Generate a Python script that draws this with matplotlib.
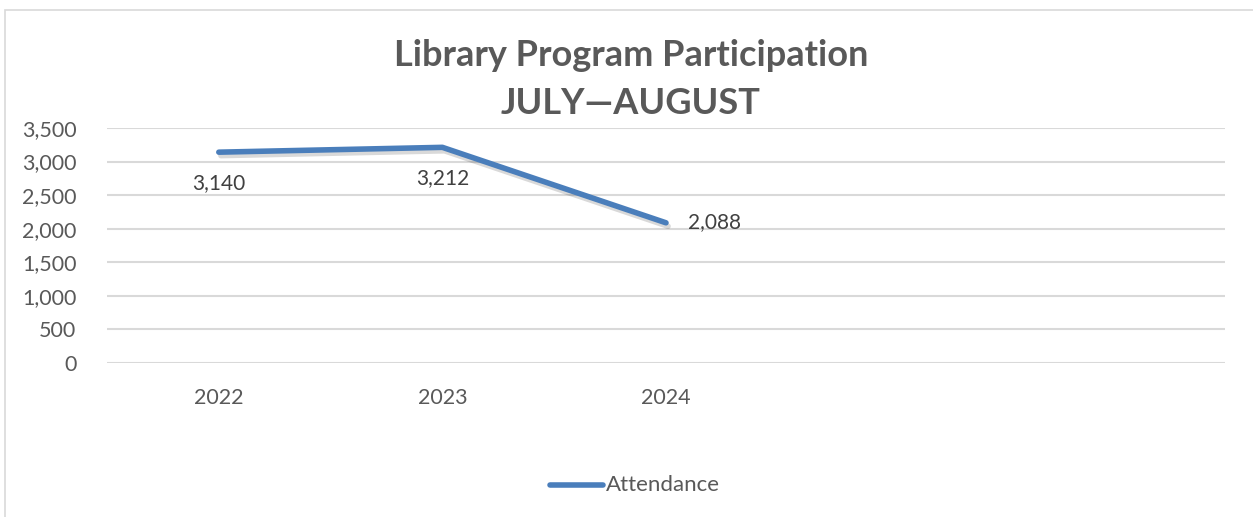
import matplotlib
matplotlib.use("Agg")
import matplotlib.pyplot as plt
import matplotlib.patheffects as pe
from matplotlib.patches import Rectangle
from matplotlib.ticker import FuncFormatter

categories = ["2022", "2023", "2024", "", ""]
attendance = [3140, 3212, 2088]
label_pos = ["below", "below", "right"]
title_line1 = "Library Program Participation"
title_line2 = "JULY\u2014AUGUST"
series_name = "Attendance"

W, H = 1253, 517
fig = plt.figure(figsize=(W / 100, H / 100), dpi=100)
plt.rcParams['font.family'] = ['Lato', 'DejaVu Sans']

# chart frame
fig.patches.append(Rectangle((5 / W, -0.1), 1.2, 1 - 10 / H + 0.1, transform=fig.transFigure,
                             fill=False, edgecolor='#d9d9d9', linewidth=1.2))

ax = fig.add_axes([107 / W, 1 - 363 / H, (1225 - 107) / W, 235 / H])
x = list(range(len(attendance)))
line_color = '#4a7ebb'
ax.plot(x, attendance, color=line_color, linewidth=4.0, solid_capstyle='round',
        solid_joinstyle='round', zorder=3,
        path_effects=[pe.SimpleLineShadow(offset=(1.5, -2.5), shadow_color='#000000', alpha=0.15),
                      pe.Normal()])

ax.set_xlim(-0.5, len(categories) - 0.5)
ax.set_ylim(0, 3500)
ax.set_yticks(range(0, 3501, 500))
ax.yaxis.set_major_formatter(FuncFormatter(lambda v, p: f"{int(v):,}"))
ax.set_xticks(range(len(categories)))
ax.set_xticklabels(categories)
ax.grid(axis='y', color='#d9d9d9', linewidth=1.5)
ax.set_axisbelow(True)
for s in ax.spines.values():
    s.set_visible(False)
ax.tick_params(axis='both', length=0, labelsize=15.5, colors='#595959')
ax.tick_params(axis='y', pad=22)
ax.tick_params(axis='x', pad=18)

for xi, v, pos in zip(x, attendance, label_pos):
    if pos == "below":
        ax.annotate(f"{v:,}", (xi, v), xytext=(0, -31), textcoords='offset pixels',
                    ha='center', va='center', fontsize=15, color='#404040')
    else:
        ax.annotate(f"{v:,}", (xi, v), xytext=(22, 1), textcoords='offset pixels',
                    ha='left', va='center', fontsize=15, color='#404040')

fig.text(631 / W, 1 - 56 / H, title_line1, ha='center', va='center', fontsize=26,
         fontweight='bold', color='#595959')
fig.text(631 / W, 1 - 104 / H, title_line2, ha='center', va='center', fontsize=26,
         fontweight='bold', color='#595959')

# legend
fig.lines.append(plt.Line2D([550 / W, 603 / W], [1 - 485 / H, 1 - 485 / H], transform=fig.transFigure,
                            color=line_color, linewidth=4.0, solid_capstyle='round'))
fig.text(606 / W, 1 - 485 / H, series_name, ha='left', va='center', fontsize=16, color='#595959')

fig.savefig("out.png", dpi=100, facecolor='white')
